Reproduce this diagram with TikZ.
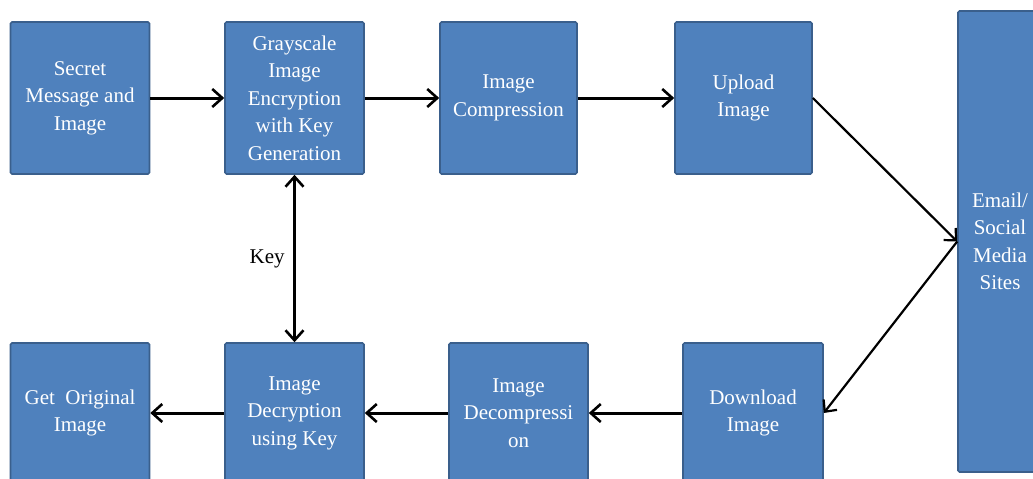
\documentclass[tikz,border=0pt]{standalone}
\usepackage{fontspec}
\setmainfont{Liberation Serif}
\usetikzlibrary{arrows.meta}
\definecolor{boxfill}{HTML}{4F81BD}
\definecolor{boxline}{HTML}{3A5F8C}
\tikzset{
  flowbox/.style={draw=boxline, line width=1.6pt, fill=boxfill, rounded corners=1.5pt,
    text=white, align=center, inner sep=2pt,
    font=\fontsize{21}{27.5}\selectfont},
  barb/.tip={Straight Barb[length=10pt,width=18pt,line width=2.6pt]},
  flow/.style={line width=3pt, -barb},
  thin flow/.style={line width=2.2pt, -{Straight Barb[length=9pt,width=17pt,line width=2.2pt]}},
  keyflow/.style={line width=3pt, barb-barb}
}
\begin{document}
\begin{tikzpicture}[x=1pt,y=-1pt]
\useasboundingbox (0,0) rectangle (1033,479);
\clip (0,0) rectangle (1033,479);
\fill[white] (0,0) rectangle (1033,479);
% upper row
\node[flowbox, minimum width=139pt, minimum height=152pt] (secret) at (80,98) {Secret\\Message and\\Image};
\node[flowbox, minimum width=139pt, minimum height=152pt] (enc) at (294.5,98) {Grayscale\\Image\\Encryption\\with Key\\Generation};
\node[flowbox, minimum width=137pt, minimum height=152pt] (comp) at (508.5,98) {Image\\Compression};
\node[flowbox, minimum width=137pt, minimum height=152pt] (up) at (743.5,98) {Upload\\Image};
% sharing platform
\node[flowbox, minimum width=84pt, minimum height=461pt, text width=70pt] (web) at (1000,241.5) {Email/\\Social\\Media\\Sites};
% lower row
\node[flowbox, minimum width=139pt, minimum height=140pt] (orig) at (80,413) {Get\ \ Original\\Image};
\node[flowbox, minimum width=139pt, minimum height=140pt] (dec) at (294.5,413) {Image\\Decryption\\using Key};
\node[flowbox, minimum width=139pt, minimum height=140pt] (decomp) at (518.5,413) {Image\\Decompressi\\on};
\node[flowbox, minimum width=140pt, minimum height=140pt] (down) at (753,413) {Download\\Image};
% connectors
\draw[flow] (secret.east) -- (enc.west);
\draw[flow] (enc.east) -- (comp.west);
\draw[flow] (comp.east) -- (up.west);
\draw[thin flow] (up.east) -- (web.west);
\draw[thin flow] (web.west) -- (down.east);
\draw[flow] (down.west) -- (decomp.east);
\draw[flow] (decomp.west) -- (dec.east);
\draw[flow] (dec.west) -- (orig.east);
\draw[keyflow] (enc.south) -- node[left=5pt, font=\fontsize{21}{25}\selectfont] (keylabel) {Key} (dec.north);
\end{tikzpicture}
\end{document}
